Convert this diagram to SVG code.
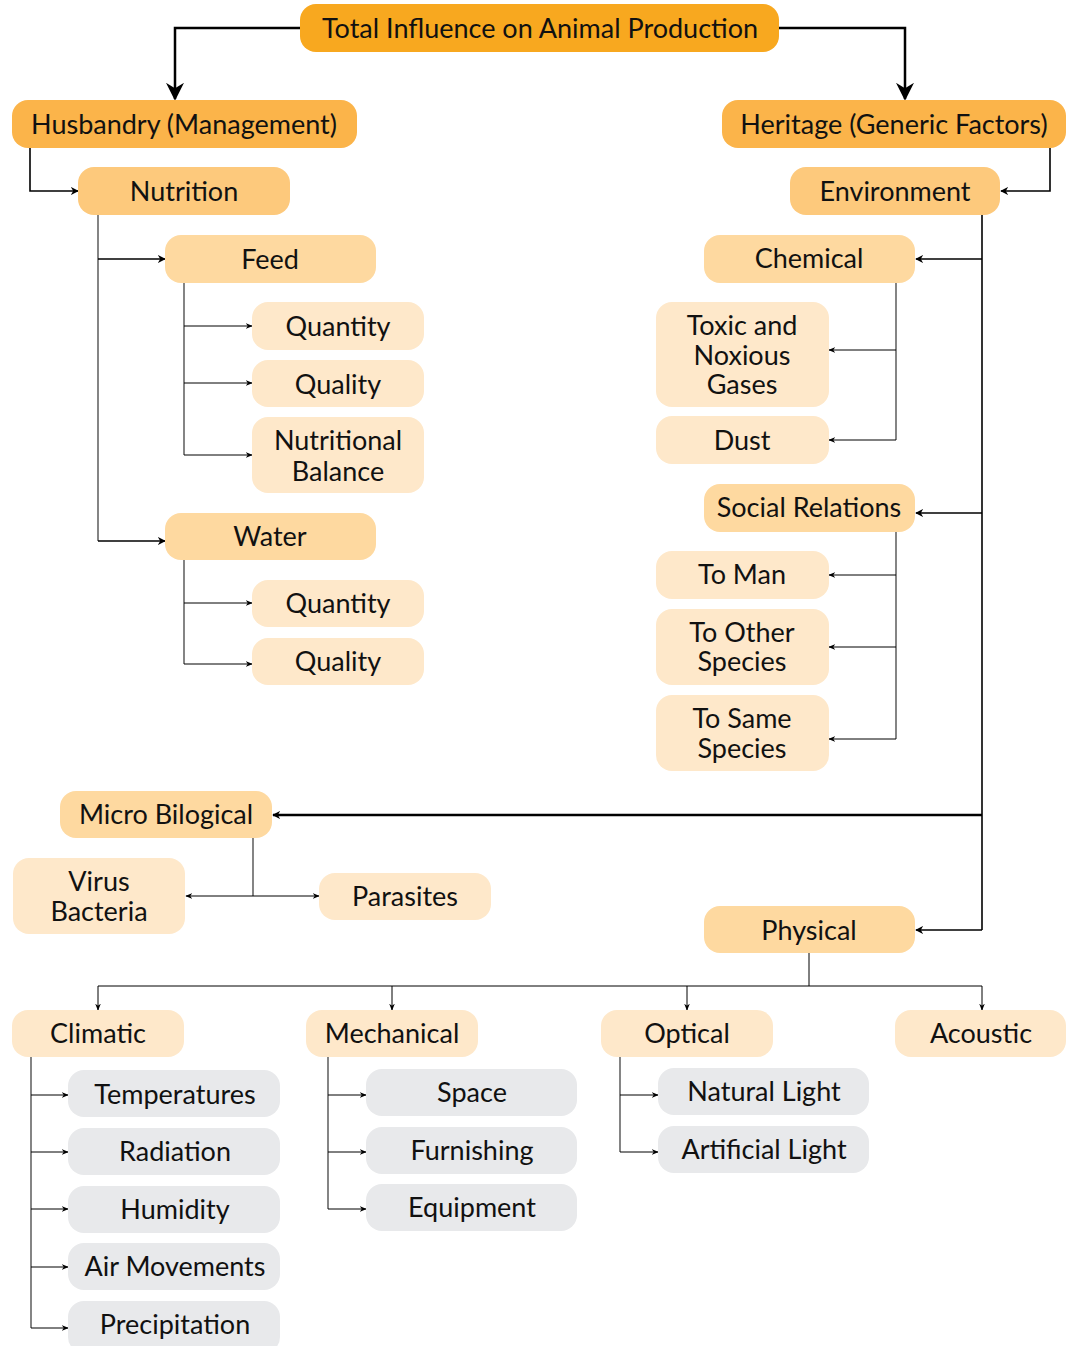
<svg xmlns="http://www.w3.org/2000/svg" width="1066" height="1346" viewBox="0 0 1066 1346">
<defs>
<style>
text{font-family:Lato,"Noto Sans","Liberation Sans",sans-serif;font-size:27px;fill:#111;text-anchor:middle;dominant-baseline:central}
.l1{fill:#F8A81F}.l2{fill:#FBB44A}.l3{fill:#FDC97C}.l4{fill:#FED9A0}.l5{fill:#FEE8CA}.l6{fill:#E8E9EB}
.thick{stroke:#000;stroke-width:2.5;fill:none}
.mid{stroke:#000;stroke-width:1.6;fill:none}
.trunk{stroke:#666;stroke-width:1.6;fill:none}
.br{stroke:#000;stroke-width:1;fill:none}
</style>
<marker id="big" viewBox="0 0 10 10" refX="9" refY="5" markerWidth="8" markerHeight="8" markerUnits="userSpaceOnUse" orient="auto"><path d="M0,0 L10,5 L0,10 L3,5 z" fill="#000"/></marker>
<marker id="bigT" viewBox="0 0 10 10" refX="9" refY="5" markerWidth="18" markerHeight="18" markerUnits="userSpaceOnUse" orient="auto"><path d="M0,0 L10,5 L0,10 L3,5 z" fill="#000"/></marker>
<marker id="sm" viewBox="0 0 10 10" refX="9" refY="5" markerWidth="7" markerHeight="7" markerUnits="userSpaceOnUse" orient="auto"><path d="M0,1 L10,5 L0,9 L3,5 z" fill="#000"/></marker>
</defs>

<g id="connectors">
<path class="thick" d="M300,28 H175 V99" marker-end="url(#bigT)"/>
<path class="thick" d="M779,28 H905 V99" marker-end="url(#bigT)"/>
<path class="mid" d="M30,148 V191 H78" marker-end="url(#big)"/>
<path class="mid" d="M1050,148 V191 H1001" marker-end="url(#big)"/>
<path class="trunk" d="M98,215 V541"/>
<path class="mid" d="M98,259 H165" marker-end="url(#big)"/>
<path class="mid" d="M98,541 H165" marker-end="url(#big)"/>
<path class="trunk" d="M184,283 V455"/>
<path class="br" d="M184,326 H252" marker-end="url(#sm)"/>
<path class="br" d="M184,383 H252" marker-end="url(#sm)"/>
<path class="br" d="M184,455 H252" marker-end="url(#sm)"/>
<path class="trunk" d="M184,560 V664"/>
<path class="br" d="M184,603 H252" marker-end="url(#sm)"/>
<path class="br" d="M184,664 H252" marker-end="url(#sm)"/>
<path class="mid" d="M982,215 V930"/>
<path class="mid" d="M982,259 H916" marker-end="url(#big)"/>
<path class="mid" d="M982,513 H916" marker-end="url(#big)"/>
<path class="thick" d="M982,815 H273" marker-end="url(#big)"/>
<path class="mid" d="M982,930 H916" marker-end="url(#big)"/>
<path class="trunk" d="M896,283 V440"/>
<path class="br" d="M896,350 H829" marker-end="url(#sm)"/>
<path class="br" d="M896,440 H829" marker-end="url(#sm)"/>
<path class="trunk" d="M896,532 V739"/>
<path class="br" d="M896,575 H829" marker-end="url(#sm)"/>
<path class="br" d="M896,647 H829" marker-end="url(#sm)"/>
<path class="br" d="M896,739 H829" marker-end="url(#sm)"/>
<path class="trunk" d="M253,838 V896"/>
<path class="br" d="M253,896 H186" marker-end="url(#sm)"/>
<path class="br" d="M253,896 H319" marker-end="url(#sm)"/>
<path class="br" d="M809,953 V986"/>
<path class="br" d="M98,986 H982"/>
<path class="br" d="M98,986 V1010" marker-end="url(#sm)"/>
<path class="br" d="M392,986 V1010" marker-end="url(#sm)"/>
<path class="br" d="M687,986 V1010" marker-end="url(#sm)"/>
<path class="br" d="M982,986 V1010" marker-end="url(#sm)"/>
<path class="trunk" d="M31,1057 V1328"/>
<path class="br" d="M31,1095 H68" marker-end="url(#sm)"/>
<path class="br" d="M31,1152 H68" marker-end="url(#sm)"/>
<path class="br" d="M31,1209 H68" marker-end="url(#sm)"/>
<path class="br" d="M31,1267 H68" marker-end="url(#sm)"/>
<path class="br" d="M31,1328 H68" marker-end="url(#sm)"/>
<path class="trunk" d="M328,1057 V1209"/>
<path class="br" d="M328,1095 H366" marker-end="url(#sm)"/>
<path class="br" d="M328,1152 H366" marker-end="url(#sm)"/>
<path class="br" d="M328,1209 H366" marker-end="url(#sm)"/>
<path class="trunk" d="M620,1057 V1152"/>
<path class="br" d="M620,1095 H658" marker-end="url(#sm)"/>
<path class="br" d="M620,1152 H658" marker-end="url(#sm)"/>
</g>

<g id="n-total"><rect class="l1" x="300" y="4" width="479" height="48" rx="16"/><text x="540" y="27">Total Influence on Animal Production</text></g>
<g id="n-husbandry"><rect class="l2" x="12" y="100" width="345" height="48" rx="16"/><text x="184" y="123">Husbandry (Management)</text></g>
<g id="n-heritage"><rect class="l2" x="722" y="100" width="344" height="48" rx="16"/><text x="894" y="123">Heritage (Generic Factors)</text></g>
<g id="n-nutrition"><rect class="l3" x="78" y="167" width="212" height="48" rx="16"/><text x="184" y="190">Nutrition</text></g>
<g id="n-environment"><rect class="l3" x="790" y="167" width="210" height="48" rx="16"/><text x="895" y="190">Environment</text></g>

<g id="n-feed"><rect class="l4" x="165" y="235" width="211" height="48" rx="16"/><text x="270" y="258">Feed</text></g>
<g id="n-feed-quantity"><rect class="l5" x="252" y="302" width="172" height="48" rx="16"/><text x="338" y="325">Quantity</text></g>
<g id="n-feed-quality"><rect class="l5" x="252" y="360" width="172" height="47" rx="16"/><text x="338" y="383">Quality</text></g>
<g id="n-nutritional-balance"><rect class="l5" x="252" y="417" width="172" height="76" rx="16"/><text x="338" y="439">Nutritional</text><text x="338" y="470">Balance</text></g>
<g id="n-water"><rect class="l4" x="165" y="513" width="211" height="47" rx="16"/><text x="270" y="535">Water</text></g>
<g id="n-water-quantity"><rect class="l5" x="252" y="580" width="172" height="47" rx="16"/><text x="338" y="602">Quantity</text></g>
<g id="n-water-quality"><rect class="l5" x="252" y="638" width="172" height="47" rx="16"/><text x="338" y="660">Quality</text></g>

<g id="n-chemical"><rect class="l4" x="704" y="235" width="211" height="48" rx="16"/><text x="809" y="257">Chemical</text></g>
<g id="n-toxic"><rect class="l5" x="656" y="302" width="173" height="105" rx="16"/><text x="742" y="324">Toxic and</text><text x="742" y="354">Noxious</text><text x="742" y="383">Gases</text></g>
<g id="n-dust"><rect class="l5" x="656" y="416" width="173" height="48" rx="16"/><text x="742" y="439">Dust</text></g>
<g id="n-social"><rect class="l4" x="704" y="484" width="211" height="48" rx="16"/><text x="809" y="506">Social Relations</text></g>
<g id="n-to-man"><rect class="l5" x="656" y="551" width="173" height="48" rx="16"/><text x="742" y="573">To Man</text></g>
<g id="n-to-other"><rect class="l5" x="656" y="609" width="173" height="76" rx="16"/><text x="742" y="631">To Other</text><text x="742" y="660">Species</text></g>
<g id="n-to-same"><rect class="l5" x="656" y="695" width="173" height="76" rx="16"/><text x="742" y="717">To Same</text><text x="742" y="747">Species</text></g>

<g id="n-micro"><rect class="l4" x="60" y="791" width="212" height="47" rx="16"/><text x="166" y="813">Micro Bilogical</text></g>
<g id="n-virus"><rect class="l5" x="13" y="858" width="172" height="76" rx="16"/><text x="99" y="880">Virus</text><text x="99" y="910">Bacteria</text></g>
<g id="n-parasites"><rect class="l5" x="319" y="873" width="172" height="47" rx="16"/><text x="405" y="895">Parasites</text></g>
<g id="n-physical"><rect class="l4" x="704" y="906" width="211" height="47" rx="16"/><text x="809" y="929">Physical</text></g>

<g id="n-climatic"><rect class="l5" x="12" y="1010" width="172" height="47" rx="16"/><text x="98" y="1032">Climatic</text></g>
<g id="n-mechanical"><rect class="l5" x="306" y="1010" width="172" height="47" rx="16"/><text x="392" y="1032">Mechanical</text></g>
<g id="n-optical"><rect class="l5" x="601" y="1010" width="172" height="47" rx="16"/><text x="687" y="1032">Optical</text></g>
<g id="n-acoustic"><rect class="l5" x="895" y="1010" width="171" height="47" rx="16"/><text x="981" y="1032">Acoustic</text></g>

<g id="n-temperatures"><rect class="l6" x="68" y="1070" width="212" height="47" rx="16"/><text x="175" y="1093">Temperatures</text></g>
<g id="n-radiation"><rect class="l6" x="68" y="1128" width="212" height="47" rx="16"/><text x="175" y="1150">Radiation</text></g>
<g id="n-humidity"><rect class="l6" x="68" y="1186" width="212" height="47" rx="16"/><text x="175" y="1208">Humidity</text></g>
<g id="n-air"><rect class="l6" x="68" y="1243" width="212" height="47" rx="16"/><text x="175" y="1265">Air Movements</text></g>
<g id="n-precipitation"><rect class="l6" x="68" y="1301" width="212" height="52" rx="16"/><text x="175" y="1323">Precipitation</text></g>

<g id="n-space"><rect class="l6" x="366" y="1069" width="211" height="47" rx="16"/><text x="472" y="1091">Space</text></g>
<g id="n-furnishing"><rect class="l6" x="366" y="1127" width="211" height="47" rx="16"/><text x="472" y="1149">Furnishing</text></g>
<g id="n-equipment"><rect class="l6" x="366" y="1184" width="211" height="47" rx="16"/><text x="472" y="1206">Equipment</text></g>

<g id="n-natural"><rect class="l6" x="658" y="1068" width="211" height="47" rx="16"/><text x="764" y="1090">Natural Light</text></g>
<g id="n-artificial"><rect class="l6" x="658" y="1126" width="211" height="47" rx="16"/><text x="764" y="1148">Artificial Light</text></g>
</svg>
